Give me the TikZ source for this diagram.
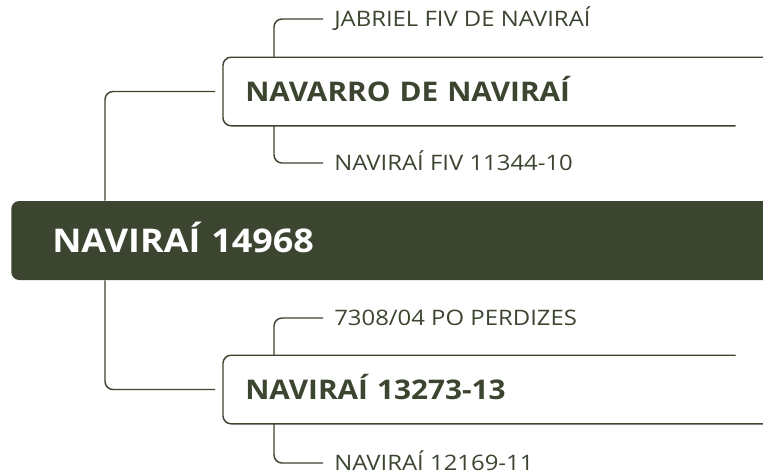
\documentclass[tikz,border=0pt]{standalone}
\usepackage{fontspec}
\setmainfont{Open Sans}
\newfontfamily\boxfont{Open Sans}[FakeStretch=1.1]
\newfontfamily\leaffont{Open Sans}[FakeStretch=1.12]
\usetikzlibrary{positioning, calc}

\definecolor{olivedark}{HTML}{3B4530}

\begin{document}
\begin{tikzpicture}[
    x=0.75pt, y=-0.75pt,
    rootbox/.style={
        fill=olivedark,
        rounded corners=6pt,
        text=white,
        font=\boxfont\fontsize{24.5pt}{28pt}\selectfont\bfseries,
        minimum height=59.25pt,
        text width=540pt,
        text height=17.5pt,
        text depth=0pt,
        inner xsep=30.75pt,
        align=left
    },
    childbox/.style={
        text=olivedark,
        font=\boxfont\fontsize{20.3pt}{24pt}\selectfont\bfseries,
        minimum height=51pt,
        text width=372pt,
        text height=14.5pt,
        text depth=0pt,
        inner xsep=16.5pt,
        align=left
    },
    leaf/.style={
        text=olivedark,
        font=\leaffont\fontsize{16pt}{18pt}\selectfont,
        inner xsep=8.25pt,
        text height=11.5pt,
        text depth=0pt
    },
    link/.style={
        draw=olivedark,
        line width=1.1pt,
        rounded corners=6pt
    }
]
\useasboundingbox (0,0) rectangle (763,475);

% --- Root -----------------------------------------------------------------
\node[rootbox, anchor=west] (root) at (11,240.5) {NAVIRAÍ 14968};

% --- Child boxes ----------------------------------------------------------
\node[childbox, anchor=west] (nav) at (223,91.5) {NAVARRO DE NAVIRAÍ};
\node[childbox, anchor=west] (nav13) at (223,389.5) {NAVIRAÍ 13273-13};

\draw[link] (nav.north east) -- (nav.north west) -- (nav.south west)
    -- ([xshift=-21pt]nav.south east);
\draw[link] ([xshift=-21pt]nav13.north east) -- (nav13.north west)
    -- (nav13.south west) -- (nav13.south east);

% --- Leaves ---------------------------------------------------------------
\node[leaf, anchor=west] (jabriel) at (323,19) {JABRIEL FIV DE NAVIRAÍ};
\node[leaf, anchor=west] (fiv) at (323,163) {NAVIRAÍ FIV 11344-10};
\node[leaf, anchor=west] (perdizes) at (323,318) {7308/04 PO PERDIZES};
\node[leaf, anchor=west] (nav11) at (323,463) {NAVIRAÍ 12169-11};

% --- Root to children -----------------------------------------------------
\draw[link] ([xshift=70.5pt]root.north west) |- ([xshift=-6pt]nav.west);
\draw[link] ([xshift=70.5pt]root.south west) |- ([xshift=-6pt]nav13.west);

% --- Children to leaves ---------------------------------------------------
\draw[link] ([xshift=38.25pt]nav.north west) |- (jabriel.west);
\draw[link] ([xshift=38.25pt]nav.south west) |- (fiv.west);
\draw[link] ([xshift=38.25pt]nav13.north west) |- (perdizes.west);
\draw[link] ([xshift=38.25pt]nav13.south west) |- (nav11.west);

\end{tikzpicture}
\end{document}
